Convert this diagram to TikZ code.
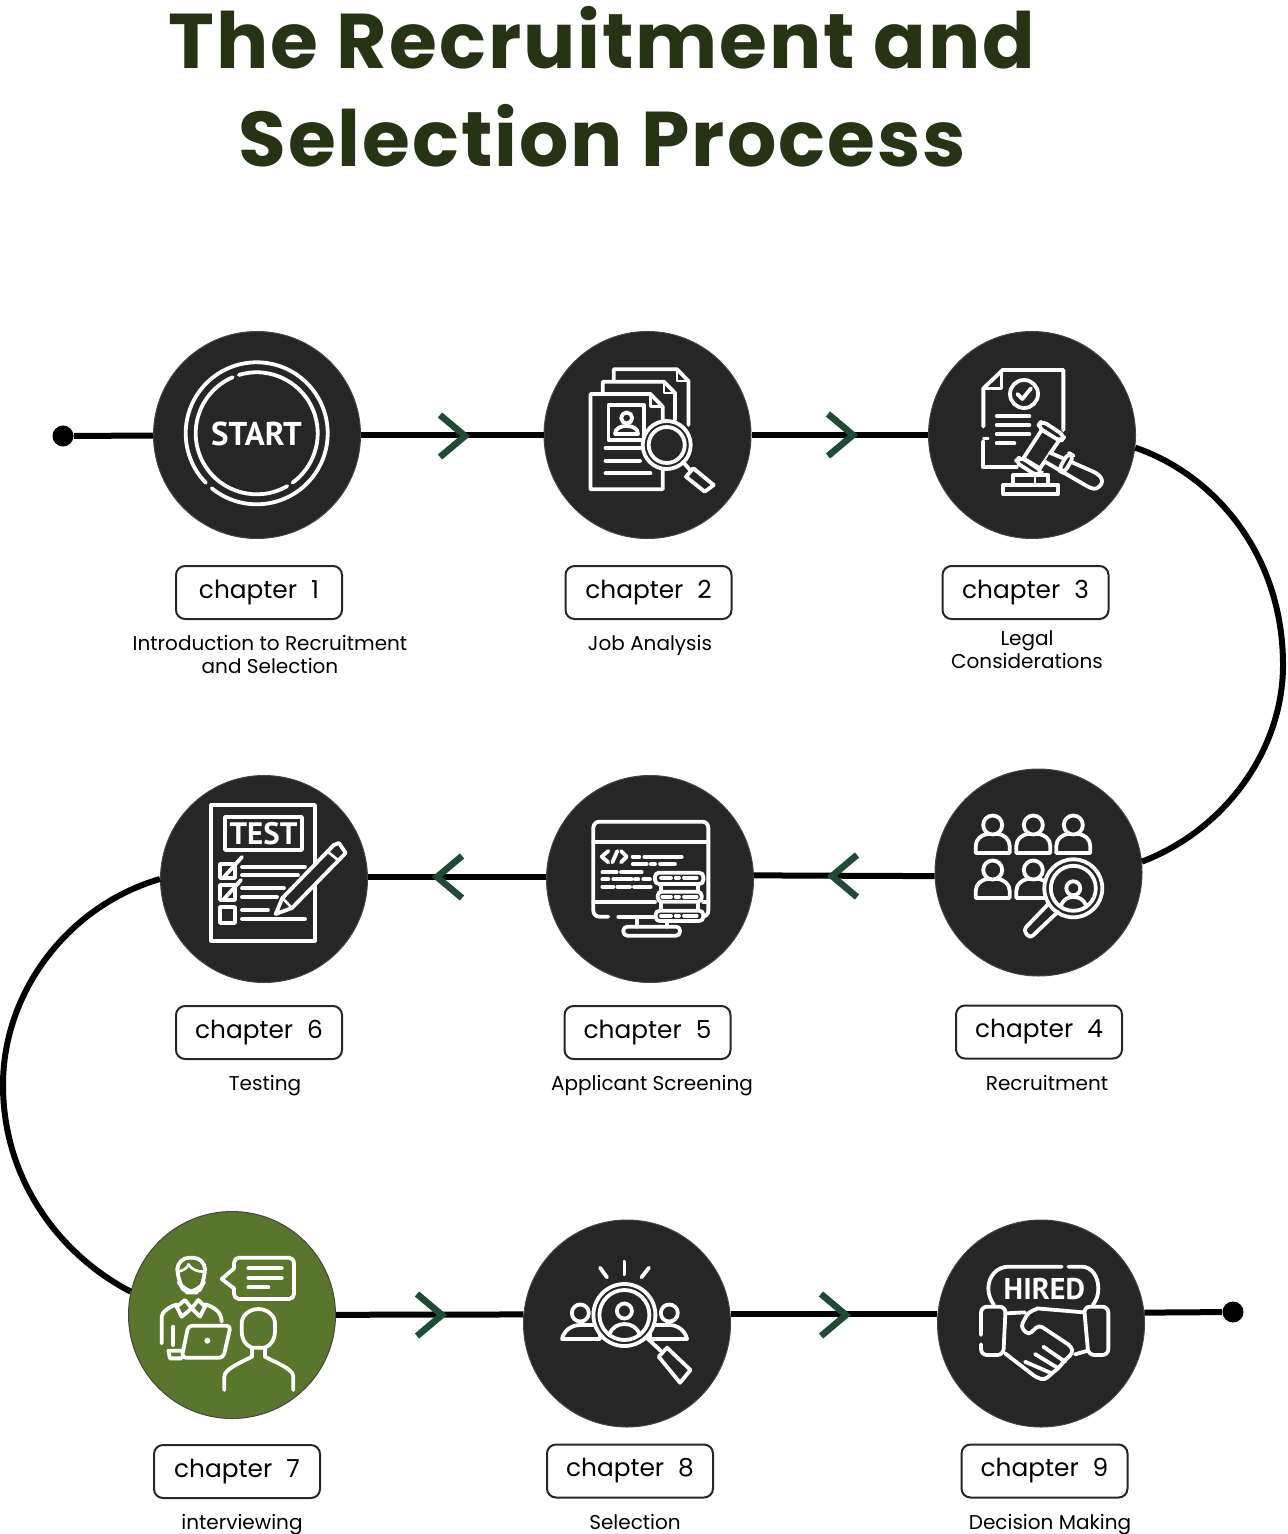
\documentclass[tikz,border=0pt]{standalone}
\usepackage{fontspec}
\setmainfont{Poppins}
\newfontfamily\iconfont{PT Sans}
\newfontfamily\titlefont{Poppins}[LetterSpace=2.5]
\usetikzlibrary{positioning}
\definecolor{TitleGreen}{HTML}{263315}
\definecolor{ChevGreen}{HTML}{1F4A33}
\definecolor{DiscDark}{HTML}{262626}
\definecolor{DiscGreen}{HTML}{5A762C}
\definecolor{DiscEdge}{HTML}{444444}
\tikzset{
  disc/.style={circle,fill=DiscDark,draw=DiscEdge,line width=0.5pt,minimum size=103.5pt,inner sep=0pt},
  chapbox/.style={draw=black!85,line width=1pt,rounded corners=4.5pt,minimum width=83pt,minimum height=26.5pt,inner sep=0pt,font=\fontsize{12.4}{15}\selectfont},
  captext/.style={align=center,inner sep=0pt,font=\fontsize{10}{11.5}\selectfont},
  pathline/.style={line width=3pt,black},
  enddot/.style={circle,fill=black,minimum size=10.5pt,inner sep=0pt},
  iconline/.style={draw=white,line width=1.9pt,line cap=round,line join=round},
  thinline/.style={draw=white,line width=1.3pt,line cap=round,line join=round},
  icontext/.style={text=white,inner sep=0pt,font=\iconfont},
  zoomed/.style={x=0.16667pt,y=-0.16667pt},
  chevright/.pic={\draw[ChevGreen,line width=3.3pt] (-25,-21) -- (0,0) -- (-25,21);},
  chevleft/.pic={\draw[ChevGreen,line width=3.3pt] (25,-21) -- (0,0) -- (25,21);},
  personfig/.pic={
    \draw[iconline,fill=DiscDark] (-17,28) -- (17,28) -- (17,21) .. controls (17,14) and (11,10) .. (6,9) -- (-6,9) .. controls (-11,10) and (-17,14) .. (-17,21) -- cycle;
    \draw[iconline,fill=DiscDark] (0,0) circle[radius=9.5];
  }
}
\begin{document}
\begin{tikzpicture}[x=0.5pt,y=-0.5pt]
  \useasboundingbox (0,0) rectangle (1288,1534);

  % title
  \node[align=center,text=TitleGreen,inner sep=0pt,font=\titlefont\bfseries\fontsize{38.8}{49}\selectfont] (title) at (602,87) {The Recruitment and\\Selection Process};

  % discs
  \node[disc] (c1) at (257,435) {};
  \node[disc] (c2) at (647.5,435) {};
  \node[disc] (c3) at (1032,435) {};
  \node[disc] (c4) at (1038.5,872.5) {};
  \node[disc] (c5) at (650,879) {};
  \node[disc] (c6) at (264,879) {};
  \node[disc,fill=DiscGreen] (c7) at (232,1315) {};
  \node[disc] (c8) at (627,1323.5) {};
  \node[disc] (c9) at (1041,1323.5) {};
  \node[enddot] (startdot) at (63,436) {};
  \node[enddot] (enddot) at (1233,1312) {};

  % chapter boxes
  \node[chapbox,below=13pt of c1,xshift=1pt] (b1) {chapter\hspace{7pt}1};
  \node[chapbox,below=13pt of c2,xshift=0.5pt] (b2) {chapter\hspace{7pt}2};
  \node[chapbox,below=13pt of c3,xshift=-3.25pt] (b3) {chapter\hspace{7pt}3};
  \node[chapbox,below=14pt of c4,xshift=0.25pt] (b4) {chapter\hspace{7pt}4};
  \node[chapbox,below=11pt of c5,xshift=-1.25pt] (b5) {chapter\hspace{7pt}5};
  \node[chapbox,below=11pt of c6,xshift=-2.5pt] (b6) {chapter\hspace{7pt}6};
  \node[chapbox,below=12.5pt of c7,xshift=2.5pt] (b7) {chapter\hspace{7pt}7};
  \node[chapbox,below=8pt of c8,xshift=1.5pt] (b8) {chapter\hspace{7pt}8};
  \node[chapbox,below=8pt of c9,xshift=1.75pt] (b9) {chapter\hspace{7pt}9};

  % captions
  \node[captext,below=7.5pt of b1,xshift=5.5pt] (t1) {Introduction to Recruitment\\and Selection};
  \node[captext,below=7.5pt of b2,xshift=0.75pt] (t2) {Job Analysis};
  \node[captext,below=5pt of b3,xshift=0.75pt] (t3) {Legal\\Considerations};
  \node[captext,below=7.5pt of b4,xshift=4pt] (t4) {Recruitment};
  \node[captext,below=7.5pt of b5,xshift=2.25pt] (t5) {Applicant Screening};
  \node[captext,below=7.5pt of b6,xshift=3pt] (t6) {Testing};
  \node[captext,below=7.5pt of b7,xshift=2.5pt] (t7) {interviewing};
  \node[captext,below=7.5pt of b8,xshift=2.5pt] (t8) {Selection};
  \node[captext,below=7.5pt of b9,xshift=2.75pt] (t9) {Decision Making};

  % connectors
  \draw[pathline] (startdot) -- (c1);
  \draw[pathline] (c1) -- (c2);
  \draw[pathline] (c2) -- (c3);
  \draw[pathline] (c3.-7) .. controls (1215,475) and (1283,555) .. (1283,665) .. controls (1283,750) and (1225,830) .. (c4.6);
  \draw[pathline] (c4.182) -- (c5.2);
  \draw[pathline] (c5.179) -- (c6.1);
  \draw[pathline] (c6.west) .. controls (70,905) and (3,990) .. (3,1085) .. controls (3,1180) and (60,1255) .. (c7.167);
  \draw[pathline] (c7) -- (c8.175);
  \draw[pathline] (c8.5) -- (c9.175);
  \draw[pathline] (c9.6) -- (enddot);

  % chevrons
  \pic at (465,436) {chevright};
  \pic at (853,435) {chevright};
  \pic at (832,876) {chevleft};
  \pic at (437,877) {chevleft};
  \pic at (442,1315) {chevright};
  \pic at (846,1315) {chevright};

  % start
  \draw[iconline] (256.7,433.3) ++(135.7:71) arc[start angle=135.7,end angle=489.3,radius=71];
  \draw[iconline] (256.7,433.3) ++(-107:61) arc[start angle=-107,end angle=54,radius=61];
  \draw[iconline] (256.7,433.3) ++(60:61) arc[start angle=60,end angle=246.8,radius=61];
  \node[icontext,font=\iconfont\bfseries\fontsize{16.5}{17}\selectfont] (starttxt) at (256.5,433.5) {START};

  % documents
  \draw[iconline] (613.7,381) -- (613.7,369.3) -- (677,369.3) -- (688.4,381) -- (688.4,425);
  \draw[thinline] (677,369.3) -- (677,381) -- (688.4,381);
  \draw[iconline] (602.7,394) -- (602.7,381.7) -- (664,381.7) -- (675,393) -- (675,420);
  \draw[thinline] (664,381.7) -- (664,393) -- (675,393);
  \draw[iconline] (662.7,425) -- (662.7,406.7) -- (650.4,394) -- (590.4,394) -- (590.4,489.3) -- (662.7,489.3) -- (662.7,469);
  \draw[thinline] (650.4,394) -- (650.4,406.7) -- (662.7,406.7);
  \draw[iconline] (608.4,405) rectangle (644.3,440);
  \draw[iconline] (626.7,418) circle[radius=5.5];
  \draw[iconline] (615,434) -- (638,434) .. controls (638,428) and (632,426) .. (626.7,426) .. controls (621,426) and (615,428) .. (615,434);
  \draw[iconline] (605.5,448) -- (640,448);
  \draw[iconline] (605.5,460.7) -- (640,460.7);
  \draw[iconline] (605.5,473.3) -- (650.4,473.3);
  \draw[iconline,fill=DiscDark] (666.7,445) circle[radius=24];
  \draw[iconline] (666.7,445) circle[radius=18];
  \draw[iconline] (683,462) -- (690,470);
  \draw[iconline] (693.3,468.3) -- (713.7,485) -- (704.7,491.7) -- (686,476.7) -- cycle;

  % law
  \begin{scope}[shift={(920,330)},zoomed]
    \draw[iconline] (190,290) -- (190,175) -- (248,120) -- (430,120) -- (430,300);
    \draw[iconline] (190,335) -- (190,412) -- (290,412);
    \draw[thinline] (245,125) -- (245,175) -- (190,175);
    \draw[thinline] (190,325) -- (205,325);
    \draw[iconline] (312,192) circle[radius=7pt];
    \draw[iconline] (292,192) -- (307,207) -- (333,175);
    \draw[iconline] (230,258) -- (328,258);
    \draw[iconline] (230,285) -- (328,285);
    \draw[iconline] (230,313) -- (328,313);
    \draw[iconline] (230,340) -- (283,340);
    \draw[iconline,fill=DiscDark] (365,300) -- (418,330) -- (360,415) -- (310,385) -- cycle;
    \draw[iconline,fill=DiscDark] (390,368) -- (520,425) .. controls (550,440) and (555,460) .. (530,475) .. controls (520,480) and (505,470) .. (495,465) -- (375,395);
    \draw[iconline,fill=DiscDark,rounded corners=3pt] (365,272) -- (435,318) -- (422,335) -- (352,290) -- cycle;
    \draw[iconline,fill=DiscDark,rounded corners=3pt] (300,380) -- (368,425) -- (352,438) -- (285,395) -- cycle;
    \draw[iconline,fill=DiscDark,rounded corners=3pt] (445,368) -- (462,378) -- (432,430) -- (415,420) -- cycle;
    \draw[iconline] (280,435) -- (385,435) -- (385,465) -- (280,465) -- cycle;
    \draw[iconline] (250,465) rectangle (415,492);
    \draw[thinline] (345,440) -- (345,465);
  \end{scope}

  % recruitment
  \pic at (992.7,825) {personfig};
  \pic at (1033.3,825) {personfig};
  \pic at (1073.3,825) {personfig};
  \pic at (992.7,870) {personfig};
  \pic at (1033.3,870) {personfig};
  \draw[iconline,fill=DiscDark] (1073.3,888.3) circle[radius=29];
  \draw[iconline] (1073.3,888.3) circle[radius=22.5];
  \draw[iconline] (1073.3,888.3) circle[radius=7];
  \draw[iconline] (1061,905) .. controls (1064,899) and (1068,897) .. (1073.3,897) .. controls (1079,897) and (1083,899) .. (1086,905);
  \draw[iconline,rounded corners=2pt] (1049,903.3) -- (1023.3,930) -- (1030,938.3) -- (1058,911.7);

  % screening
  \begin{scope}[shift={(585,815)},zoomed]
    \draw[iconline,rounded corners=3pt] (70,305) -- (25,305) -- (25,20) -- (370,20) -- (370,305) -- (355,305);
    \draw[iconline] (100,305) -- (210,305);
    \draw[iconline] (25,80) -- (370,80);
    \draw[iconline] (25,262) -- (210,262);
    \draw[iconline] (355,262) -- (370,262);
    \draw[iconline] (155,310) -- (155,335);
    \draw[iconline] (245,320) -- (245,335);
    \draw[iconline,rounded corners=2pt] (115,335) rectangle (285,362);
    \draw[iconline] (70,108) -- (50,125) -- (70,142);
    \draw[iconline] (82,142) -- (97,108);
    \draw[iconline] (108,108) -- (125,125) -- (108,142);
    \draw[iconline] (143,125) -- (163,125);
    \draw[iconline] (178,125) -- (290,125);
    \draw[iconline] (143,147) -- (185,147);
    \draw[iconline] (197,147) -- (210,147);
    \draw[iconline] (225,147) -- (270,147);
    \draw[iconline] (52,172) -- (95,172);
    \draw[iconline] (108,172) -- (170,172);
    \draw[iconline] (52,193) -- (70,193);
    \draw[iconline] (85,193) -- (140,193);
    \draw[iconline] (150,193) -- (160,193);
    \draw[iconline] (175,193) -- (195,193);
    \draw[iconline] (52,215) -- (85,215);
    \draw[iconline] (97,215) -- (135,215);
    \draw[iconline] (147,215) -- (197,215);
    \draw[iconline] (228,207) -- (228,230);
    \draw[iconline] (340,207) -- (340,230);
    \draw[iconline] (228,260) -- (228,287);
    \draw[iconline] (340,260) -- (340,287);
    \draw[iconline,fill=DiscDark,rounded corners=2pt] (210,173) rectangle (355,207);
    \draw[iconline,fill=DiscDark,rounded corners=2pt] (218,230) rectangle (350,260);
    \draw[iconline,fill=DiscDark,rounded corners=2pt] (212,287) rectangle (355,318);
    \draw[iconline] (228,188) -- (258,188);
    \draw[iconline] (272,188) -- (282,188);
    \draw[iconline] (297,188) -- (335,188);
    \draw[iconline] (232,245) -- (258,245);
    \draw[iconline] (272,245) -- (282,245);
    \draw[iconline] (297,245) -- (335,245);
    \draw[iconline] (228,302) -- (258,302);
    \draw[iconline] (272,302) -- (282,302);
    \draw[iconline] (297,302) -- (335,302);
  \end{scope}

  % test
  \draw[iconline] (211.3,805) rectangle (315,940.7);
  \draw[iconline] (225,817) rectangle (302,850);
  \node[icontext,font=\iconfont\bfseries\fontsize{15.5}{15.5}\selectfont] (testtxt) at (263.5,834) {TEST};
  \draw[iconline] (220,864) rectangle (235,878);
  \draw[iconline] (224,877) -- (242,857);
  \draw[iconline] (220,885) rectangle (235,900);
  \draw[iconline] (224,899) -- (241,880);
  \draw[iconline] (220,907) rectangle (235,923);
  \draw[iconline] (242,867) -- (305,867);
  \draw[iconline] (242,875) -- (298,875);
  \draw[iconline] (242,888) -- (284,888);
  \draw[iconline] (242,897) -- (277,897);
  \draw[iconline] (242,910) -- (268,910);
  \draw[iconline] (242,919) -- (305,919);
  \draw[iconline,fill=DiscDark] (275.7,914) -- (282.4,898) -- (333.8,845) -- (339,843) -- (345.7,853) -- (292,908) -- cycle;
  \draw[thinline] (328,852) -- (338,860);
  \draw[thinline] (282.4,898) -- (292,908);

  % interview
  \begin{scope}[shift={(120,1205)},zoomed]
    \draw[iconline,rounded corners=6pt] (195,262) -- (172,225) -- (172,158) -- (255,158) -- (255,225) -- (235,262) -- cycle;
    \draw[thinline] (175,200) .. controls (195,195) and (205,185) .. (205,178) .. controls (215,195) and (235,200) .. (252,200);
    \draw[iconline] (170,305) -- (195,285) -- (215,310) -- (235,285) -- (255,305);
    \draw[iconline] (170,305) -- (185,335) -- (215,310) -- (240,335) -- (255,305);
    \draw[iconline] (125,415) -- (125,335) .. controls (125,320) and (150,305) .. (170,298);
    \draw[iconline] (255,298) .. controls (280,305) and (305,320) .. (305,350);
    \draw[iconline] (160,365) -- (160,420);
    \draw[iconline,fill=DiscGreen,rounded corners=2pt] (205,362) -- (332,362) -- (310,458) -- (185,458) -- cycle;
    \draw[iconline] (185,437) -- (145,437) -- (150,460) -- (185,460);
    \fill[white] (262,407) circle[radius=1.5pt];
    \draw[iconline,rounded corners=2.5pt] (342,190) -- (342,158) -- (522,158) -- (522,282) -- (342,282) -- (342,250);
    \draw[iconline] (342,190) -- (305,222) -- (342,250);
    \draw[iconline] (385,190) -- (485,190);
    \draw[iconline] (385,218) -- (485,218);
    \draw[iconline] (385,247) -- (445,247);
    \draw[iconline] (395,428) .. controls (375,420) and (365,400) .. (365,380) -- (365,355) .. controls (365,330) and (390,312) .. (415,312) .. controls (440,312) and (465,330) .. (465,355) -- (465,380) .. controls (465,400) and (455,420) .. (435,428) -- cycle;
    \draw[iconline] (395,428) -- (395,455);
    \draw[iconline] (435,428) -- (435,455);
    \draw[iconline] (313,555) -- (313,515) .. controls (313,490) and (370,470) .. (395,455);
    \draw[iconline] (435,455) .. controls (460,470) and (520,490) .. (520,515) -- (520,555);
  \end{scope}

  % selection
  \draw[iconline] (580.3,1313) circle[radius=8.5];
  \draw[iconline] (669.3,1313) circle[radius=8.5];
  \draw[iconline] (562,1339) .. controls (564,1330) and (572,1325) .. (580.3,1325) -- (600,1325) -- (600,1339) -- cycle;
  \draw[iconline] (687,1339) .. controls (685,1330) and (677,1325) .. (669.3,1325) -- (650,1325) -- (650,1339) -- cycle;
  \draw[iconline,fill=DiscDark] (624.4,1315) circle[radius=31];
  \draw[iconline] (624.4,1315) circle[radius=25];
  \draw[iconline] (624.4,1311) circle[radius=7.5];
  \draw[iconline] (609,1335) .. controls (612,1327) and (618,1324) .. (624.4,1324) .. controls (631,1324) and (637,1327) .. (640,1335);
  \draw[iconline] (624.4,1261.7) -- (624.4,1274.3);
  \draw[iconline] (600,1267.7) -- (607,1277.3);
  \draw[iconline] (649,1267.7) -- (641.5,1277.3);
  \draw[iconline] (647,1338) -- (661,1351);
  \draw[iconline] (658.7,1356.7) -- (667,1347.7) -- (690.5,1370) -- (680,1382.7) -- cycle;

  % hired
  \begin{scope}[shift={(970,1255)},zoomed]
    \draw[iconline] (275,35) -- (115,35) .. controls (80,35) and (55,65) .. (55,100) .. controls (55,120) and (62,135) .. (72,150);
    \draw[iconline] (295,35) -- (335,35) .. controls (365,35) and (385,65) .. (385,100) .. controls (385,120) and (380,135) .. (368,150);
    \node[icontext,font=\iconfont\bfseries\fontsize{15}{15}\selectfont] (hiredtxt) at (223,103) {HIRED};
    \draw[iconline,rounded corners=3pt] (33,240) -- (33,155) -- (107,155) -- (100,300) -- (33,300) -- (33,268);
    \draw[iconline,rounded corners=3pt] (342,155) -- (415,155) -- (415,300) -- (355,300) -- cycle;
    \draw[iconline] (107,175) -- (165,172);
    \draw[iconline] (200,160) -- (340,172);
    \draw[iconline,rounded corners=2pt] (200,162) -- (175,172) -- (152,215) -- (175,240) -- (207,210) -- (305,275) -- (308,295) -- (285,315) -- (265,340) -- (245,355) -- (225,375) -- (200,368) -- (105,295);
    \draw[iconline] (220,275) -- (285,320);
    \draw[iconline] (195,297) -- (265,340);
    \draw[iconline] (165,320) -- (245,355);
    \draw[iconline] (315,298) -- (350,288);
  \end{scope}
\end{tikzpicture}
\end{document}
